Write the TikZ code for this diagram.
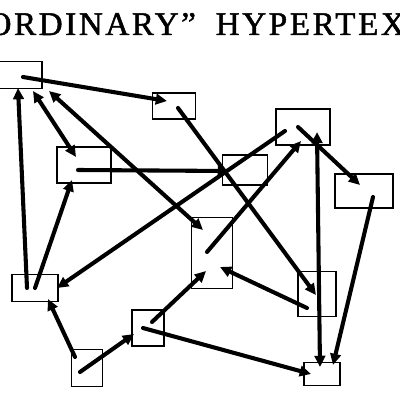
\documentclass[tikz,border=0pt]{standalone}
\usepackage{fontspec}
\setmainfont{Liberation Serif}
\newfontfamily\titlefont[LetterSpace=8, FakeBold=1.5]{Liberation Serif}
\usetikzlibrary{arrows.meta}

\begin{document}
\begin{tikzpicture}[x=0.025cm, y=-0.025cm,
    box/.style={draw, line width=1.2pt, inner sep=0pt},
    link/.style={line width=2.9pt, line cap=round, -{Triangle[length=8pt, width=7.5pt]}},
    twolink/.style={link, {Triangle[length=8pt, width=7.5pt]}-{Triangle[length=8pt, width=7.5pt]}}]
            \useasboundingbox (0,0) rectangle (400,400);
            \clip (0,0) rectangle (400,400);

            \node[anchor=base west, inner sep=0pt, font=\titlefont\fontsize{23.5}{27}\selectfont] (title) at (-30,35) {“ORDINARY”\hspace{0.6em}HYPERTEXT};

            \foreach \n/\x/\y/\w/\h in {A/15/75/54/27, B/174/106/43/26, C/84/165/54/36,
                    D/245/170/45/30, E/303/127/54/36, F/364/191/58/34, G/212/253/41/71,
                    H/317/294/38/45, I/322/374/36/23, J/35/288/46/27, K/148/328/32/36,
                    L/87/368/31/37} {
                    \node[box, minimum width=\w*0.025cm, minimum height=\h*0.025cm] (\n) at (\x,\y) {};
                }

            \draw[link] ([shift={(8,2)}]A.center) -- ([shift={(-7,-5)}]B.center);
            \draw[link] ([shift={(-8,0)}]J.center) -- ([shift={(3,13)}]A.center);
            \draw[link] (J.center) -- ([shift={(-12,15)}]C.center);
            \draw[twolink] ([shift={(18,16)}]A.center) -- ([shift={(-8,-8)}]C.center);
            \draw[twolink] ([shift={(34,16)}]A.center) -- ([shift={(-9,-23)}]G.center);
            \draw[link] ([shift={(-6,5)}]C.center) -- ([shift={(-16,1)}]D.center);
            \draw[link] ([shift={(4,2)}]B.center) -- ([shift={(-1,1)}]H.center);
            \draw[link] ([shift={(-18,4)}]E.center) -- ([shift={(22,0)}]J.center);
            \draw[link] ([shift={(-5,-1)}]G.center) -- ([shift={(-2,14)}]E.center);
            \draw[link] ([shift={(-5,0)}]E.center) -- ([shift={(-4,-6)}]F.center);
            \draw[twolink] ([shift={(14,5)}]E.center) -- ([shift={(-2,-7)}]I.center);
            \draw[link] ([shift={(9,6)}]F.center) -- ([shift={(11,-9)}]I.center);
            \draw[link] ([shift={(-10,14)}]H.center) -- ([shift={(8,14)}]G.center);
            \draw[link] ([shift={(-5,0)}]K.center) -- ([shift={(-11,0)}]I.center);
            \draw[link] ([shift={(-7,4)}]L.center) -- ([shift={(-14,6)}]K.center);
            \draw[link] ([shift={(-12,-11)}]L.center) -- ([shift={(13,11)}]J.center);
            \draw[link] ([shift={(4,-6)}]K.center) -- ([shift={(-6,18)}]G.center);
        \end{tikzpicture}
\end{document}
